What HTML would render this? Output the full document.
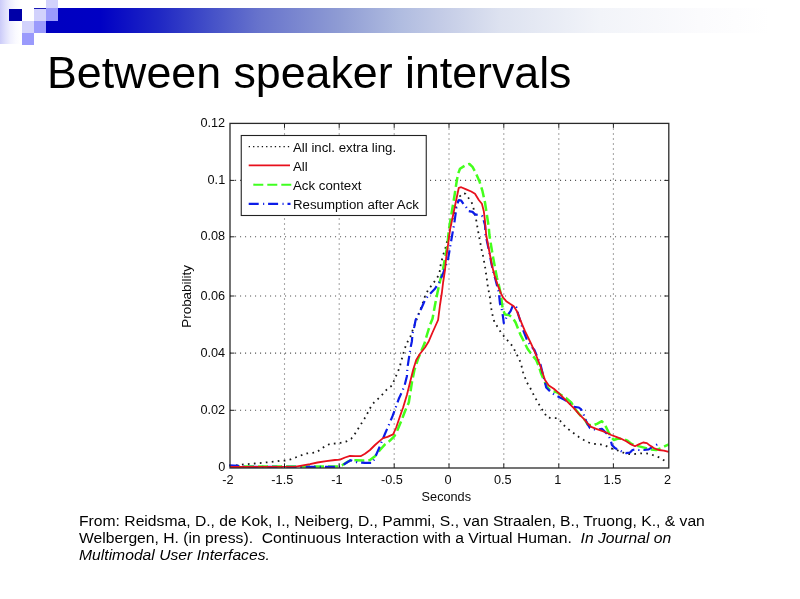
<!DOCTYPE html>
<html lang="en">
<head>
<meta charset="utf-8">
<title>Between speaker intervals</title>
<style>
html,body{margin:0;padding:0;background:#fff;}
body{width:800px;height:599px;position:relative;overflow:hidden;font-family:"Liberation Sans",Arial,sans-serif;}
.abs{position:absolute;}
#lgrad{left:0;top:0;width:21px;height:43.5px;background:linear-gradient(to right,#cbcbf9 0%,#dfdffc 25%,#f0f0fe 50%,#fafaff 75%,#ffffff 100%);}
#bar{left:46px;top:8px;width:754px;height:24.5px;background:linear-gradient(to right,#0000c0 0%,#0000c4 7.2%,#2028c4 15.1%,#4450c8 21.8%,#6874cc 28.4%,#8f9cd4 39%,#b0bce0 47%,#c3cbe6 52.3%,#dde2f0 60.2%,#f2f4f9 73.5%,#fbfbfd 86.7%,#ffffff 96%);}
.sq{position:absolute;}
#title{left:46.7px;top:43px;font-size:43.5px;line-height:60px;color:#000;white-space:nowrap;transform-origin:0 0;transform:scaleX(1.028);}
#cite{left:79px;top:512px;font-size:15.4px;line-height:17.2px;color:#000;white-space:nowrap;transform-origin:0 0;transform:scaleX(1.019);}
</style>
</head>
<body>
<div id="lgrad" class="abs"></div>
<div id="bar" class="abs"></div>
<div class="sq" style="left:46px;top:8px;width:12px;height:13px;background:#fff"></div>
<div class="sq" style="left:9px;top:9px;width:13px;height:12px;background:#0000a8"></div>
<div class="sq" style="left:34px;top:8px;width:12px;height:13px;background:#d2d2fc"></div>
<div class="sq" style="left:46px;top:0;width:12px;height:8px;background:#d2d2fc"></div>
<div class="sq" style="left:46px;top:8px;width:12px;height:13px;background:#9a9afc"></div>
<div class="sq" style="left:34px;top:7.6px;width:12px;height:1px;background:#1a1ab4"></div>
<div class="sq" style="left:22px;top:21px;width:12px;height:12px;background:#d2d2fc"></div>
<div class="sq" style="left:34px;top:21px;width:12px;height:12px;background:#9a9afc"></div>
<div class="sq" style="left:22px;top:33px;width:12px;height:12px;background:#9a9afc"></div>
<div id="title" class="abs">Between speaker intervals</div>
<svg width="800" height="599" viewBox="0 0 800 599" style="position:absolute;left:0;top:0;filter:blur(0.35px)">
<g stroke="#555" stroke-width="1.1" stroke-dasharray="1.1 3.9" fill="none"><line x1="284.50" y1="123.40" x2="284.50" y2="468.00"/><line x1="339.20" y1="123.40" x2="339.20" y2="468.00"/><line x1="394.20" y1="123.40" x2="394.20" y2="468.00"/><line x1="449.00" y1="123.40" x2="449.00" y2="468.00"/><line x1="503.80" y1="123.40" x2="503.80" y2="468.00"/><line x1="558.80" y1="123.40" x2="558.80" y2="468.00"/><line x1="613.40" y1="123.40" x2="613.40" y2="468.00"/><line x1="230.00" y1="410.30" x2="668.80" y2="410.30"/><line x1="230.00" y1="353.10" x2="668.80" y2="353.10"/><line x1="230.00" y1="296.00" x2="668.80" y2="296.00"/><line x1="230.00" y1="236.80" x2="668.80" y2="236.80"/><line x1="230.00" y1="180.40" x2="668.80" y2="180.40"/></g>
<g fill="none" stroke-linejoin="round">
<polyline points="230.0,466.2 234.2,465.6 244.2,464.4 254.9,463.5 265.5,462.5 275.5,461.5 280.5,460.6 284.9,460.6 290.5,459.4 295.5,457.5 300.5,455.6 305.5,453.5 310.5,453.1 316.1,452.5 320.6,449.4 325.6,445.6 330.6,443.8 335.6,443.5 340.6,442.8 346.2,441.5 351.2,438.8 354.4,434.8 358.1,428.8 361.2,423.8 364.4,418.8 366.9,414.4 369.4,409.4 372.5,404.0 377.5,399.4 381.9,395.0 386.9,389.4 391.9,385.6 395.6,376.9 398.1,371.2 400.0,366.2 401.2,360.6 402.8,356.2 403.8,351.9 405.6,346.2 408.1,340.6 410.6,336.2 413.1,328.8 415.0,323.8 422.5,303.8 425.0,296.2 428.1,290.0 431.9,285.0 435.6,280.0 438.8,275.0 440.0,270.0 440.6,265.0 441.9,260.0 443.1,255.0 445.0,250.0 446.2,245.0 451.9,221.2 453.8,215.0 455.6,208.8 457.5,202.5 460.0,196.2 463.1,193.1 465.6,193.8 468.1,197.5 471.2,201.2 473.1,206.2 474.4,212.5 476.2,220.0 478.1,231.2 479.0,236.2 480.0,241.2 480.9,246.2 481.9,251.2 483.1,256.2 484.0,261.2 485.0,266.2 485.6,271.2 486.5,276.2 487.2,281.9 487.9,286.9 489.8,296.9 490.4,301.9 491.0,306.9 491.9,311.9 492.9,316.9 494.4,321.9 497.5,326.9 500.6,331.9 504.4,336.9 508.8,341.9 513.1,346.9 515.6,352.5 518.1,356.9 520.6,362.5 521.9,367.5 523.1,372.5 525.0,377.5 526.9,382.5 530.0,387.5 532.5,392.5 535.0,397.5 538.1,402.5 540.6,407.5 544.4,412.5 546.9,417.5 551.9,418.1 556.9,418.1 560.0,420.6 565.0,426.5 572.0,432.0 578.8,436.9 583.8,440.0 588.8,442.5 593.8,443.8 599.4,444.4 604.4,445.0 608.8,447.5 612.5,448.8 618.1,450.6 624.4,453.1 629.4,454.0 634.4,454.0 639.4,453.5 644.4,453.1 649.4,453.8 654.4,455.6 659.4,457.5 664.4,460.6" stroke="#181818" stroke-width="1.8" stroke-dasharray="1.7 4.3"/>
<polyline points="230.0,466.6 338.8,466.5 342.5,465.0 347.5,461.9 351.2,460.0 356.2,460.2 362.5,460.6 370.0,460.0 375.0,456.2 380.0,450.0 385.0,444.4 390.0,440.6 394.4,436.2 397.5,430.0 401.2,421.2 405.0,411.2 408.8,402.5 411.9,382.5 414.4,370.0 418.1,358.8 421.2,351.2 424.4,343.8 426.9,335.0 430.0,325.0 432.5,318.8 435.0,305.0 437.5,292.5 440.0,281.2 443.1,268.8 445.6,255.0 447.5,245.0 448.8,229.9 451.9,211.2 454.4,196.2 456.5,182.5 458.1,173.8 460.0,168.8 465.0,165.6 469.4,164.0 472.5,166.9 475.6,172.5 479.4,181.2 482.5,191.2 485.0,202.5 486.9,215.0 488.8,227.5 489.4,235.0 491.2,246.2 493.1,257.5 495.0,267.5 496.9,277.5 499.4,287.5 501.2,296.2 501.9,303.8 503.1,310.0 505.0,314.4 508.8,315.0 512.5,317.5 515.6,322.5 518.1,328.8 520.6,335.0 523.8,341.2 527.5,348.8 531.2,353.8 536.2,360.0 538.8,366.2 541.2,373.8 544.4,381.2 547.5,387.5 551.2,391.2 556.2,391.9 561.2,395.0 566.2,398.1 571.2,402.5 575.0,408.8 580.0,415.0 585.0,420.0 587.5,424.4 592.5,425.6 596.9,423.8 601.9,421.2 605.0,425.0 607.5,430.0 610.6,436.2 613.8,440.0 617.5,438.8 622.5,438.8 627.5,440.6 631.2,443.8 636.2,445.6 641.2,446.9 646.2,448.1 651.2,449.4 656.2,450.0 661.2,448.1 665.0,446.2 668.8,444.4" stroke="#44ff1c" stroke-width="2.5" stroke-dasharray="10 4"/>
<polyline points="229.0,465.4 238.0,465.8 246.0,466.9 338.8,466.9 343.1,465.0 346.9,462.5 350.6,460.2 353.8,461.2 357.5,462.5 365.0,462.9 372.5,462.9 375.6,456.2 378.8,448.8 381.9,441.2 385.0,433.8 388.8,425.0 392.5,416.2 396.2,406.2 398.8,398.8 400.6,394.9 404.4,386.2 406.9,376.2 407.5,367.5 409.4,355.0 410.6,347.5 411.9,341.2 412.5,333.8 414.4,326.2 415.6,320.0 416.9,317.5 421.2,308.8 425.0,300.0 428.8,295.0 435.0,288.8 438.8,282.5 442.5,275.0 445.6,266.2 448.1,258.8 449.4,251.2 450.0,247.5 454.4,222.5 455.6,213.8 456.9,205.0 458.8,200.0 461.2,200.6 463.8,204.4 465.6,206.2 468.8,211.2 472.5,211.9 475.0,214.4 478.8,215.0 482.5,216.2 485.0,225.0 485.6,235.0 487.5,243.8 489.4,252.5 491.2,262.5 493.1,271.2 495.6,280.0 497.5,287.5 498.8,292.5 500.0,303.8 501.9,310.0 502.9,316.2 503.8,323.1 505.6,319.4 506.9,316.2 510.6,311.2 513.1,305.0 516.2,306.9 516.9,310.0 518.8,316.2 521.2,323.8 523.1,330.0 527.5,341.2 531.2,346.2 534.4,350.0 540.6,365.0 543.1,375.0 545.0,382.5 546.2,387.5 551.2,392.5 555.0,395.0 560.0,397.5 565.0,400.0 570.0,403.8 573.8,406.9 578.8,407.5 581.2,409.4 583.8,415.0 586.2,421.2 588.1,424.9 590.0,428.1 593.8,429.4 598.8,429.4 601.9,428.8 605.0,431.9 608.1,435.0 610.6,440.0 611.9,445.0 615.0,448.1 618.8,450.0 622.5,451.9 626.2,453.1 630.0,452.5 632.5,450.0 636.2,449.4 638.8,450.0 643.8,450.0 648.8,449.4 652.5,446.9 656.2,445.0 658.1,443.8" stroke="#0c1ce8" stroke-width="2.2" stroke-dasharray="10 4 1.2 4"/>
<polyline points="230.0,467.0 296.0,466.6 310.0,464.1 317.5,462.5 326.2,461.2 335.0,460.0 340.0,459.6 345.0,457.5 350.0,455.9 355.0,456.2 360.6,456.2 365.0,453.8 370.0,450.0 375.0,445.0 380.0,440.6 383.1,438.1 387.5,436.9 393.1,434.4 396.2,427.5 400.0,416.2 403.1,407.5 406.9,395.0 410.0,382.5 413.1,370.0 416.2,360.0 420.0,353.8 425.0,347.5 428.8,341.2 432.5,332.5 438.1,320.0 440.0,305.0 441.9,292.5 443.1,282.5 445.0,270.0 446.2,257.5 447.5,248.8 450.0,229.9 453.1,215.0 456.2,200.0 458.8,187.8 461.2,187.2 466.2,189.4 471.2,191.5 475.0,193.8 478.8,200.0 481.9,203.8 483.8,211.2 485.0,221.2 486.2,235.0 488.1,245.0 490.0,255.0 491.9,265.0 494.4,275.0 498.1,286.2 501.2,293.8 503.1,297.5 506.2,301.2 510.0,303.8 513.8,306.2 516.9,311.2 519.4,317.5 521.9,323.8 525.0,331.2 528.1,337.5 531.2,343.8 535.0,352.5 540.0,365.0 542.5,372.5 545.0,380.0 548.8,385.6 553.8,388.8 558.8,393.1 563.8,398.1 568.8,403.1 573.8,408.1 578.8,413.8 583.8,418.8 588.1,423.8 591.2,426.9 596.2,428.8 601.2,430.6 606.2,432.5 611.2,435.0 616.2,436.9 621.2,438.8 626.2,441.2 631.2,444.4 635.0,446.2 638.8,444.4 643.1,442.5 646.9,443.1 650.0,445.6 653.8,448.1 658.8,450.0 663.8,450.6 668.8,451.9" stroke="#e8101c" stroke-width="1.8"/>
</g>
<rect x="230.00" y="123.40" width="438.80" height="344.60" fill="none" stroke="#2a2a2a" stroke-width="1.3"/>
<g stroke="#222" stroke-width="1"><line x1="284.50" y1="468.00" x2="284.50" y2="463.50"/><line x1="284.50" y1="123.40" x2="284.50" y2="127.90"/><line x1="339.20" y1="468.00" x2="339.20" y2="463.50"/><line x1="339.20" y1="123.40" x2="339.20" y2="127.90"/><line x1="394.20" y1="468.00" x2="394.20" y2="463.50"/><line x1="394.20" y1="123.40" x2="394.20" y2="127.90"/><line x1="449.00" y1="468.00" x2="449.00" y2="463.50"/><line x1="449.00" y1="123.40" x2="449.00" y2="127.90"/><line x1="503.80" y1="468.00" x2="503.80" y2="463.50"/><line x1="503.80" y1="123.40" x2="503.80" y2="127.90"/><line x1="558.80" y1="468.00" x2="558.80" y2="463.50"/><line x1="558.80" y1="123.40" x2="558.80" y2="127.90"/><line x1="613.40" y1="468.00" x2="613.40" y2="463.50"/><line x1="613.40" y1="123.40" x2="613.40" y2="127.90"/><line x1="230.00" y1="410.30" x2="234.50" y2="410.30"/><line x1="668.80" y1="410.30" x2="664.30" y2="410.30"/><line x1="230.00" y1="353.10" x2="234.50" y2="353.10"/><line x1="668.80" y1="353.10" x2="664.30" y2="353.10"/><line x1="230.00" y1="296.00" x2="234.50" y2="296.00"/><line x1="668.80" y1="296.00" x2="664.30" y2="296.00"/><line x1="230.00" y1="236.80" x2="234.50" y2="236.80"/><line x1="668.80" y1="236.80" x2="664.30" y2="236.80"/><line x1="230.00" y1="180.40" x2="234.50" y2="180.40"/><line x1="668.80" y1="180.40" x2="664.30" y2="180.40"/></g>
<g font-family="'Liberation Sans', Arial, sans-serif" font-size="12.7" fill="#0a0a0a">
<text x="225.2" y="471.1" text-anchor="end">0</text>
<text x="225.2" y="413.9" text-anchor="end">0.02</text>
<text x="225.2" y="356.7" text-anchor="end">0.04</text>
<text x="225.2" y="299.6" text-anchor="end">0.06</text>
<text x="225.2" y="240.4" text-anchor="end">0.08</text>
<text x="225.2" y="184.0" text-anchor="end">0.1</text>
<text x="225.2" y="127.0" text-anchor="end">0.12</text>
<text x="227.8" y="483.8" text-anchor="middle">-2</text>
<text x="282.3" y="483.8" text-anchor="middle">-1.5</text>
<text x="337.0" y="483.8" text-anchor="middle">-1</text>
<text x="392.0" y="483.8" text-anchor="middle">-0.5</text>
<text x="448.0" y="483.8" text-anchor="middle">0</text>
<text x="502.8" y="483.8" text-anchor="middle">0.5</text>
<text x="557.8" y="483.8" text-anchor="middle">1</text>
<text x="612.4" y="483.8" text-anchor="middle">1.5</text>
<text x="667.6" y="483.8" text-anchor="middle">2</text>
<text x="446.3" y="500.6" text-anchor="middle">Seconds</text>
<text transform="translate(191.4,296.4) rotate(-90)" text-anchor="middle" font-size="13.4">Probability</text>
</g>
<rect x="241.25" y="135.5" width="185" height="80" fill="#fff" stroke="#222" stroke-width="1.1"/>
<g fill="none">
<line x1="248.7" y1="146.7" x2="290.5" y2="146.7" stroke="#111" stroke-width="1.3" stroke-dasharray="1.3 3.05"/>
<line x1="248.7" y1="165.4" x2="290" y2="165.4" stroke="#e8101c" stroke-width="1.6"/>
<line x1="253.3" y1="184.7" x2="291.4" y2="184.7" stroke="#40ff20" stroke-width="2.1" stroke-dasharray="10 4"/>
<line x1="248.7" y1="203.8" x2="290.5" y2="203.8" stroke="#0c1ce8" stroke-width="2.3" stroke-dasharray="10 4.4 1.1 3.9"/>
</g>
<g font-family="'Liberation Sans', Arial, sans-serif" font-size="13.25" fill="#0a0a0a">
<text x="293" y="151.8">All incl. extra ling.</text>
<text x="293" y="170.6">All</text>
<text x="293" y="190.0">Ack context</text>
<text x="293" y="209.2">Resumption after Ack</text>
</g>
</svg>
<div id="cite" class="abs">From: Reidsma, D., de Kok, I., Neiberg, D., Pammi, S., van Straalen, B., Truong, K., &amp; van<br>Welbergen, H. (in press).&nbsp; Continuous Interaction with a Virtual Human.&nbsp; <i>In Journal on<br>Multimodal User Interfaces.</i></div>
</body>
</html>
